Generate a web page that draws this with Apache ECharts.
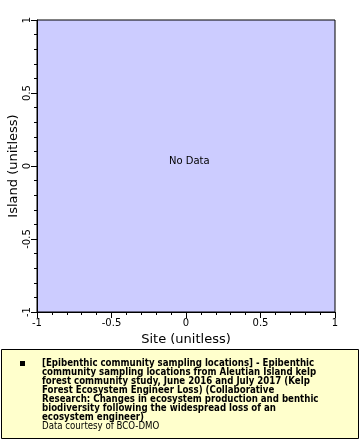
<!DOCTYPE html>
<html>
<head>
<meta charset="utf-8">
<style>
html,body{margin:0;padding:0;background:#fff;}
#chart{width:360px;height:440px;}
</style>
<script src="https://cdn.jsdelivr.net/npm/echarts@6/dist/echarts.min.js"></script>
</head>
<body>
<div id="chart"></div>
<script>
// Data
var xTitle = 'Site (unitless)';
var yTitle = 'Island (unitless)';
var xRange = [-1, 1];
var yRange = [-1, 1];
var tickInterval = 0.5;
var seriesData = []; // no data points
var noDataText = 'No Data';
var legendLines = [
  '[Epibenthic community sampling locations] - Epibenthic',
  'community sampling locations from Aleutian Island kelp',
  'forest community study, June 2016 and July 2017 (Kelp',
  'Forest Ecosystem Engineer Loss) (Collaborative',
  'Research: Changes in ecosystem production and benthic',
  'biodiversity following the widespread loss of an',
  'ecosystem engineer)'
];
var creditText = 'Data courtesy of BCO-DMO';

var chart = echarts.init(document.getElementById('chart'), null, {renderer: 'canvas'});
var fontFam = 'DejaVu Sans';
function fmt(v){ return (Math.round(v*10)/10).toString(); }
var axisCommon = {
  type: 'value',
  interval: tickInterval,
  axisLine: {show: true, onZero: false, lineStyle: {color: '#000', width: 1}},
  axisTick: {show: true, inside: false, length: 6, lineStyle: {color: '#000'}},
  minorTick: {show: true, splitNumber: 5, length: 3, lineStyle: {color: '#000'}},
  splitLine: {show: false},
  nameLocation: 'middle',
  nameMoveOverlap: false,
  nameTextStyle: {fontFamily: fontFam, fontSize: 13, color: '#000'}
};
var option = {
  animation: false,
  backgroundColor: '#fff',
  grid: {left: 37, right: 25, top: 20, bottom: 128, show: true, containLabel: false,
    outerBoundsMode: 'none',
    backgroundColor: '#ccccff', borderColor: '#000', borderWidth: 1},
  xAxis: Object.assign({}, axisCommon, {
    min: xRange[0], max: xRange[1], name: xTitle, nameGap: 21,
    axisLabel: {fontFamily: fontFam, fontSize: 10, color: '#000', margin: 6, formatter: fmt}
  }),
  yAxis: Object.assign({}, axisCommon, {
    min: yRange[0], max: yRange[1], name: yTitle, nameGap: 17,
    axisLabel: {fontFamily: fontFam, fontSize: 10, color: '#000', margin: 5, rotate: 90, formatter: fmt}
  }),
  series: [{type: 'scatter', data: seriesData, name: legendLines.join(' ')}],
  graphic: [
    {type: 'text', left: 169, top: 156, style: {text: noDataText, font: '10px "DejaVu Sans"', fill: '#000'}},
    {type: 'rect', shape: {x: 1.5, y: 349.5, width: 357, height: 89},
      style: {fill: '#ffffcc', stroke: '#000', lineWidth: 1}},
    {type: 'rect', shape: {x: 20, y: 361, width: 5, height: 5}, style: {fill: '#000'}},
    {type: 'text', x: 42, y: 359.5, style: {text: legendLines.join('\n'),
      font: 'bold 9.6px "DejaVu Sans Condensed"', lineHeight: 8.9, fill: '#000', verticalAlign: 'top'}},
    {type: 'text', x: 42, y: 359.5 + 8.9*7, style: {text: creditText,
      font: '9.6px "DejaVu Sans Condensed"', lineHeight: 8.9, fill: '#000', verticalAlign: 'top'}}
  ]
};
chart.setOption(option);
</script>
</body>
</html>
